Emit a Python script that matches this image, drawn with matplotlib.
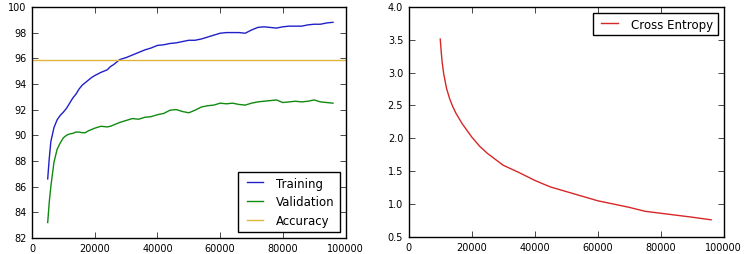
import matplotlib
matplotlib.use('Agg')
import matplotlib.pyplot as plt

plt.style.use('classic')
plt.rcParams['font.size'] = 7
plt.rcParams['figure.facecolor'] = 'white'
plt.rcParams['savefig.facecolor'] = 'white'

# training / validation accuracy
steps = [5000, 5500, 6000, 7000, 8000, 9000, 10000, 11000, 12000, 13000, 14000,
         15000, 16000, 17000, 18000, 19000, 20000, 22000, 24000, 25000, 26000,
         28000, 30000, 32000, 34000, 36000, 38000, 40000, 42000, 44000, 46000,
         48000, 50000, 52000, 54000, 56000, 58000, 60000, 62000, 64000, 66000,
         68000, 70000, 72000, 74000, 76000, 78000, 80000, 82000, 84000, 86000,
         88000, 90000, 92000, 94000, 96000]
train = [86.6, 88.2, 89.5, 90.6, 91.2, 91.55, 91.8, 92.1, 92.5, 92.9, 93.2,
         93.6, 93.9, 94.1, 94.3, 94.5, 94.65, 94.9, 95.1, 95.35, 95.5,
         95.9, 96.05, 96.25, 96.45, 96.65, 96.8, 97.0, 97.05, 97.15, 97.2,
         97.3, 97.4, 97.4, 97.5, 97.65, 97.8, 97.95, 98.0, 98.0, 98.0,
         97.95, 98.2, 98.4, 98.45, 98.4, 98.35, 98.45, 98.5, 98.5, 98.5,
         98.6, 98.65, 98.65, 98.75, 98.8]
valid = [83.2, 84.8, 86.0, 87.9, 88.9, 89.4, 89.8, 90.0, 90.1, 90.15, 90.25,
         90.25, 90.2, 90.2, 90.35, 90.45, 90.55, 90.7, 90.65, 90.7, 90.8,
         91.0, 91.15, 91.3, 91.25, 91.4, 91.45, 91.6, 91.7, 91.95, 92.0,
         91.85, 91.75, 91.95, 92.2, 92.3, 92.35, 92.5, 92.45, 92.5, 92.4,
         92.35, 92.5, 92.6, 92.65, 92.7, 92.75, 92.55, 92.6, 92.65, 92.6,
         92.65, 92.75, 92.6, 92.55, 92.5]

acc_x = [0, 100000]
acc_y = [95.9, 95.9]

# cross entropy
ce_steps = [10000, 10300, 10600, 11100, 12000, 13000, 14000, 15000, 17000,
            20000, 22500, 25000, 27500, 30000, 35000, 40000, 45000, 50000,
            55000, 60000, 65000, 70000, 75000, 80000, 85000, 90000, 96000]
ce = [3.51, 3.32, 3.16, 2.98, 2.76, 2.60, 2.48, 2.38, 2.22,
      2.02, 1.88, 1.77, 1.68, 1.59, 1.48, 1.36, 1.26, 1.19,
      1.12, 1.05, 1.00, 0.95, 0.89, 0.86, 0.83, 0.80, 0.76]

fig = plt.figure(figsize=(7.5, 2.55), dpi=100)
ax1 = fig.add_axes([0.0427, 0.063, 0.418, 0.906])
ax2 = fig.add_axes([0.545, 0.067, 0.42, 0.902])

ax1.plot(steps, train, color='#2020c8', lw=1, label='Training')
ax1.plot(steps, valid, color='#108a10', lw=1, label='Validation')
ax1.plot(acc_x, acc_y, color='#e0b43a', lw=1, label='Accuracy')
ax1.set_xlim(0, 100000)
ax1.set_ylim(82, 100)
ax1.set_yticks(range(82, 101, 2))
ax1.legend(loc='lower right', fontsize=8.5)

ax2.plot(ce_steps, ce, color='#d62728', lw=1, label='Cross Entropy')
ax2.set_xlim(0, 100000)
ax2.set_ylim(0.5, 4.0)
ax2.legend(loc='upper right', fontsize=8.5)

plt.savefig('out.png', dpi=100)
